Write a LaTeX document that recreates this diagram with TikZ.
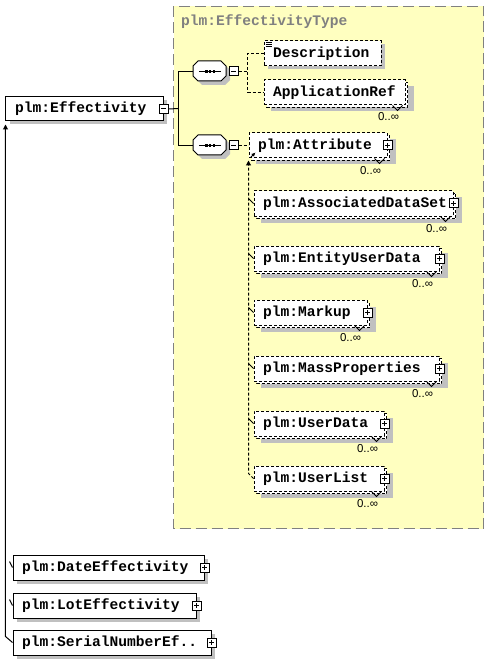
\documentclass[tikz,border=0pt]{standalone}
\usepackage{fontspec}
\newfontfamily\xsdfont{Liberation Mono}
\newfontfamily\occfont{Liberation Sans}
\usepackage{tikz}
\usetikzlibrary{positioning,arrows.meta,calc}
\definecolor{xsdgray}{HTML}{808080}
\definecolor{xsdshadow}{HTML}{C0C0C0}
\definecolor{xsdyellow}{HTML}{FFFFC0}
\tikzset{
  xsddash/.style={dash pattern=on 3pt off 2pt},
  elem/.style={draw, fill=white, anchor=north west, inner xsep=9pt, inner ysep=0pt,
    minimum height=25pt, align=left, font=\xsdfont\bfseries\fontsize{14.6}{17}\selectfont},
  optelem/.style={elem, xsddash},
  backbox/.style={draw, xsddash, fill=white},
  minusbox/.style={draw, solid, fill=white, inner sep=0pt, minimum size=9pt,
    path picture={\draw ([xshift=2pt]path picture bounding box.west) -- ([xshift=-2pt]path picture bounding box.east);}},
  plusbox/.style={minusbox,
    path picture={\draw ([xshift=2pt]path picture bounding box.west) -- ([xshift=-2pt]path picture bounding box.east);
      \draw ([yshift=2pt]path picture bounding box.south) -- ([yshift=-2pt]path picture bounding box.north);}},
  seqicon/.style={inner sep=0pt, minimum width=33pt, minimum height=20pt},
  occ/.style={inner sep=0pt, font=\occfont\fontsize{11.5}{13}\selectfont},
}
\begin{document}
\begin{tikzpicture}[x=1pt, y=-1pt, line width=1pt]
\useasboundingbox (-0.5,-0.5) rectangle (487.5,659.5);
% complex type frame
\draw[xsdgray, fill=xsdyellow, line width=1pt, dash pattern=on 11pt off 5pt] (173,6) rectangle (483,528);
\node[anchor=west, inner sep=0pt, text=xsdgray, font=\xsdfont\bfseries\fontsize{14.6}{17}\selectfont]
  (typetitle) at (180,21) {plm:EffectivityType};

% root element
\fill[xsdshadow] (9,100) rectangle (166,124);
\node[elem, minimum height=24pt, text width=139pt] (eff) at (5,96) {plm:Effectivity};
\node[minusbox] (effmin) at (eff.east) {};

% sequences
\node[seqicon] (seqa) at (209.5,71) {};
\node[seqicon] (seqb) at (209.5,145) {};
\foreach \s in {seqa,seqb} {
  \fill[xsdshadow] ($(\s.north west)+(4,4)$) ++(5,0) -- ++(23,0) -- ++(5,5) -- ++(0,10)
    -- ++(-5,5) -- ++(-23,0) -- ++(-5,-5) -- ++(0,-10) -- cycle;
  \draw[fill=white] ($(\s.north west)+(5,0)$) -- ++(23,0) -- ++(5,5) -- ++(0,10)
    -- ++(-5,5) -- ++(-23,0) -- ++(-5,-5) -- ++(0,-10) -- cycle;
  \draw[line width=0.8pt] ($(\s.center)+(-11,0)$) -- ++(22,0);
  \foreach \d in {-5.1,-1.3,2.5} \fill ($(\s.center)+(\d,-1.3)$) rectangle ++(2.6,2.6);
}
\node[minusbox, right=1.5pt of seqa] (seqamin) {};
\node[minusbox, right=1.5pt of seqb] (seqbmin) {};
\coordinate (fork) at (178,108);
\draw (effmin.east) -- (fork);
\draw (seqa.west) -| (fork) |- (seqb.west);

% first sequence
\fill[xsdshadow] (267,44) rectangle (384,69);
\node[optelem, text width=99pt] (desc) at (263,40) {Description};
\foreach \k in {2,4,6} \draw[line width=0.8pt] ($(desc.north west)+(2,\k)$) -- ++(6,0);
\fill[xsdshadow] (270,86) rectangle (413,111);
\draw[backbox] (266,82) rectangle (407,107);
\node[optelem, text width=123pt] (appref) at (263,79) {ApplicationRef};
\draw[line width=0.8pt] ([xshift=-13pt]appref.south east) -- ++(5,5) -- ++(5,-5);
\node[occ] (appref-occ) at ([xshift=-17pt,yshift=-11pt]appref.south east) {0..∞};
\coordinate (jA) at (247,71);
\draw[xsddash] (seqamin.east) -- (jA);
\draw[xsddash] (desc.west) -| (jA) |- (appref.west);

% second sequence, substitution group of plm:Attribute
\fill[xsdshadow] (255,139) rectangle (395,164);
\draw[backbox] (251,135) rectangle (389,160);
\node[optelem, text width=120pt] (attr) at (248,132) {plm:Attribute};
\node[plusbox] (attr-pm) at (attr.east) {};
\draw[line width=0.8pt] ([xshift=-13pt]attr.south east) -- ++(5,5) -- ++(5,-5);
\node[occ] (attr-occ) at ([xshift=-17pt,yshift=-12pt]attr.south east) {0..∞};
\draw[xsddash] (seqbmin.east) -- (attr.west);
\draw[-{Latex[length=4pt,width=4pt]}, line width=0.8pt] ($(attr.south west)+(2,-1)$) -- ++(5,-5);
\foreach \n/\t/\y/\w in {assoc/plm:AssociatedDataSet/190/181, entud/plm:EntityUserData/245/167,
    markup/plm:Markup/299/95, massprop/plm:MassProperties/355/167,
    userdata/plm:UserData/410/112, userlist/plm:UserList/465/112} {
  \fill[xsdshadow] (260,\y+7) rectangle (253+\w+27,\y+32);
  \draw[backbox] (256,\y+3) rectangle (253+\w+21,\y+28);
  \node[optelem, text width=\w pt] (\n) at (253,\y) {\t};
  \node[plusbox] (\n-pm) at (\n.east) {};
  \draw[line width=0.8pt] ([xshift=-13pt]\n.south east) -- ++(5,5) -- ++(5,-5);
  \node[occ] (\n-occ) at ([xshift=-17pt,yshift=-12pt]\n.south east) {0..∞};
}
\foreach \n in {assoc,entud,markup,massprop,userdata}
  \draw (\n.west) -- ++(-5,-5);
\draw[xsddash, -{Triangle[length=5pt,width=5pt]}] (userlist.west) -- ++(-5,-5) -- ([yshift=-2pt]attr.south west);

% substitution group of plm:Effectivity
\foreach \n/\t/\y/\w in {dateeff/plm:DateEffectivity/554/173, loteff/plm:LotEffectivity/592/165,
    serialeff/plm:SerialNumberEf../629/180} {
  \fill[xsdshadow] (16,\y+4) rectangle (12+\w+22,\y+29);
  \node[elem, text width=\w pt] (\n) at (12,\y) {\t};
  \node[plusbox] (\n-pm) at (\n.east) {};
}
\foreach \n in {dateeff,loteff}
  \draw (\n.west) -- ++(-3,-6);
\draw[-{Triangle[length=5pt,width=5pt]}] (serialeff.west) -- ++(-7,-6) -- ([yshift=-3pt]eff.south west);
\end{tikzpicture}
\end{document}
